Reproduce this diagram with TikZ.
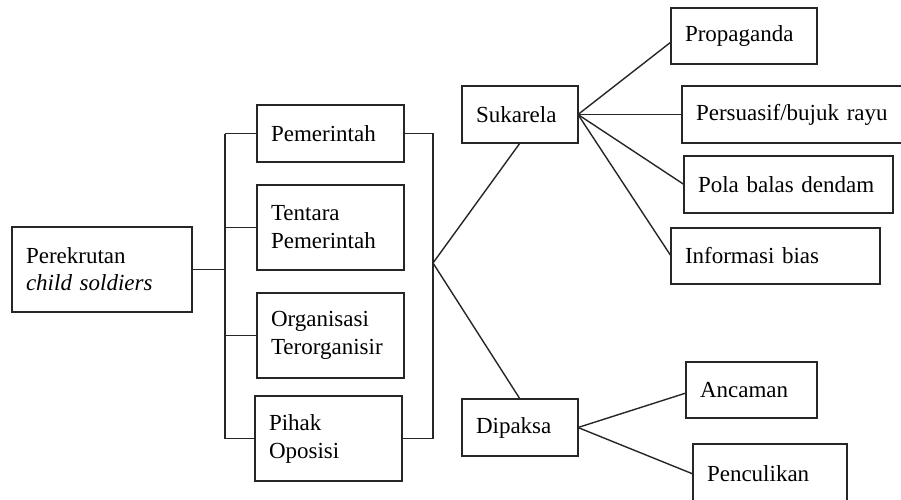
\documentclass[tikz,border=0pt]{standalone}
\usepackage{fontspec}
\setmainfont{Liberation Serif}
\usetikzlibrary{calc}
\begin{document}
\begin{tikzpicture}[x=1pt,y=-1pt,
  box/.style={draw=black!85, line width=1.4pt, rectangle, anchor=north west, align=left,
    inner xsep=14pt, inner ysep=2pt, outer sep=0pt,
    font=\fontsize{23}{28}\selectfont},
  conn/.style={draw=black!85, line width=1.4pt}]
\clip (0,0) rectangle (901,499);
\useasboundingbox (0,0) rectangle (901,499);
% boxes
\node[box, text width=152pt, minimum height=85pt, font=\fontsize{23}{27}\selectfont] (per) at (12,227) {Perekrutan\\\textit{child soldiers}};
\node[box, text width=119pt, minimum height=57pt] (pem) at (257,105) {Pemerintah};
\node[box, text width=119pt, minimum height=85pt] (ten) at (257,185) {Tentara\\Pemerintah};
\node[box, text width=119pt, minimum height=85pt] (org) at (257,293) {Organisasi\\Terorganisir};
\node[box, text width=119pt, minimum height=85pt] (pih) at (255,396) {Pihak\\Oposisi};
\node[box, text width=88pt, minimum height=57pt] (suk) at (462,86) {Sukarela};
\node[box, text width=88pt, minimum height=57pt] (dip) at (462,399) {Dipaksa};
\node[box, text width=118pt, minimum height=56pt] (prop) at (671,8) {Propaganda};
\node[box, text width=194pt, minimum height=57pt] (pers) at (682,86) {\mbox{Persuasif/bujuk rayu}};
\node[box, text width=181pt, minimum height=57pt] (pola) at (684,156) {\mbox{Pola balas dendam}};
\node[box, text width=181pt, minimum height=56pt] (info) at (671,228) {\mbox{Informasi bias}};
\node[box, text width=103pt, minimum height=56pt] (anc) at (686,362) {Ancaman};
\node[box, text width=126pt, minimum height=60pt] (pen) at (693,444) {Penculikan};
% left bus
\coordinate (bl) at (225,270);
\coordinate (br) at (433,263);
\draw[conn] (per.east) -- (bl |- per.east);
\draw[conn] (bl |- pem.west) -- (bl |- pih.west);
\draw[conn] (bl |- pem.west) -- (pem.west);
\draw[conn] (bl |- ten.west) -- (ten.west);
\draw[conn] (bl |- org.west) -- (org.west);
\draw[conn] (bl |- pih.west) -- (pih.west);
% right bus
\draw[conn] (pem.east) -- (br |- pem.east) -- (br |- pih.east) -- (pih.east);
\draw[conn] (suk.south) -- (br) -- (dip.north);
% fans
\draw[conn] (suk.east) -- ([yshift=-6pt]prop.west);
\draw[conn] (suk.east) -- (pers.west);
\draw[conn] (suk.east) -- (pola.west);
\draw[conn] (suk.east) -- (info.west);
\draw[conn] (dip.east) -- ([yshift=-3pt]anc.west);
\draw[conn] (dip.east) -- (pen.west);
\end{tikzpicture}
\end{document}
